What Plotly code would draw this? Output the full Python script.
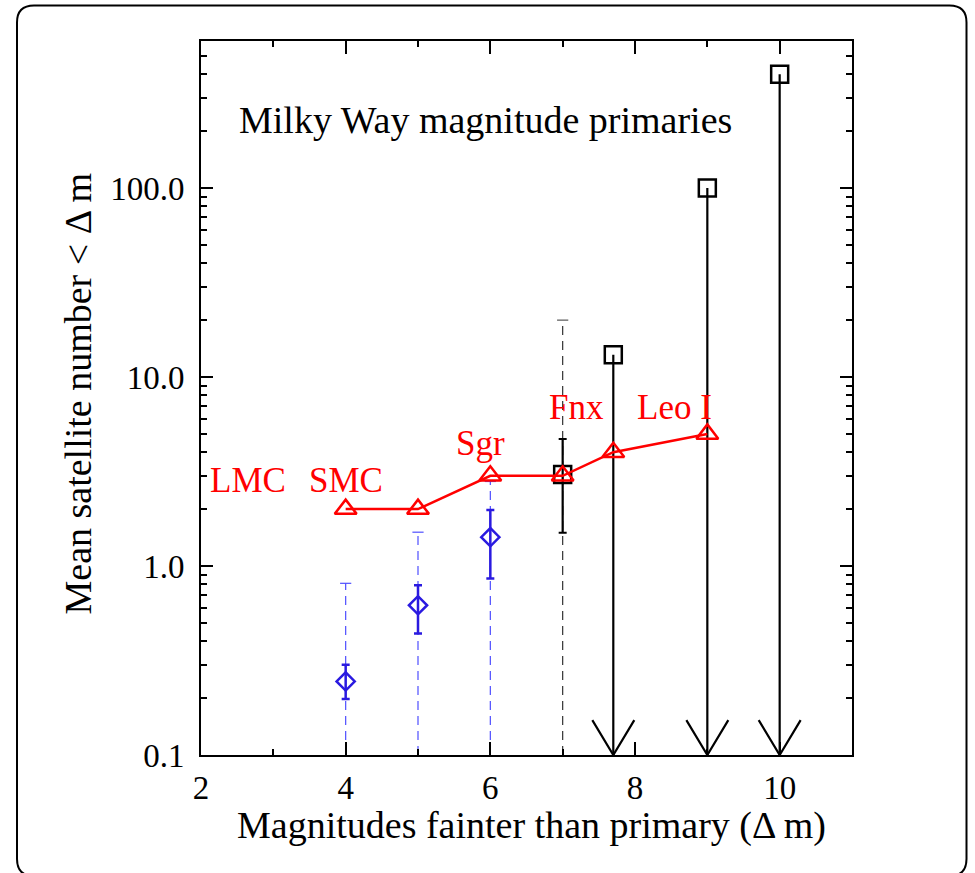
import math
import plotly.graph_objects as go

# ---------------- data ----------------
# red: Milky Way satellites (cumulative counts)
red_x = [4, 5, 6, 7, 7.7, 9]
red_y = [2, 2, 3, 3, 4, 5]
red_labels = ["LMC", "SMC", "Sgr", "Fnx", "Leo I"]
red_label_x = [2.65, 4.01, 5.86, 7.19, 8.55]
red_label_y = [2.85, 2.85, 4.43, 6.9, 6.9]

# blue diamonds with errors
blue_x = [4, 5, 6]
blue_y = [0.245, 0.62, 1.42]
blue_lo = [0.198, 0.44, 0.86]
blue_hi = [0.30, 0.79, 1.98]
blue_dash_hi = [0.81, 1.51, 2.8]

# black square measurement
blk_x = [7]
blk_y = [3.05]
blk_lo = [1.5]
blk_hi = [4.7]
blk_dash_hi = [20]

# black squares: upper limits
lim_x = [7.7, 9, 10]
lim_y = [13.1, 100, 400]

x_ticks = [2, 4, 6, 8, 10]
x_minor = [3, 5, 7, 9]
y_ticks = [0.1, 1, 10, 100]
y_ticktext = ["0.1", "1.0", "10.0", "100.0"]

title_text = "Milky Way magnitude primaries"
x_title = "Magnitudes fainter than primary (Δ m)"
y_title = "Mean satellite number < Δ m"

# ---------------- styling / geometry ----------------
W, H = 975, 873
L, R, T, B = 201, 123, 41, 118
XMIN, XMAX = 2, 11
YLOGMIN, YLOGMAX = -1, 2.778
FLOOR = 10 ** YLOGMIN
ARROW_HALF_W = 0.29
ARROW_TOP = 0.153
FONT = "Liberation Serif"
RED = "#ff0000"
BLUE = "#2a1ae0"
BLUE_LIGHT = "#4f4fff"

pw, ph = W - L - R, H - T - B


def px(xp):
    return (xp - L) / pw


def py(yp):
    return (H - B - yp) / ph


y_minor = [m * 10 ** e for e in range(-1, 3) for m in range(2, 10) if m * 10 ** e < 10 ** YLOGMAX]

fig = go.Figure()


def dashed_segments(xs, highs):
    xx, yy = [], []
    for x, h in zip(xs, highs):
        xx += [x, x, None]
        yy += [FLOOR, h, None]
    return xx, yy


# blue dashed ranges
bx, by = dashed_segments(blue_x, blue_dash_hi)
fig.add_trace(go.Scatter(x=bx, y=by, mode="lines",
                         line=dict(color=BLUE_LIGHT, width=1.2, dash="9px,6px"),
                         hoverinfo="skip", showlegend=False))
fig.add_trace(go.Scatter(x=blue_x, y=blue_dash_hi, mode="markers",
                         marker=dict(symbol="line-ew-open", size=8, color=BLUE_LIGHT,
                                     line=dict(color=BLUE_LIGHT, width=1.2)),
                         hoverinfo="skip", showlegend=False))
# black dashed range
kx, ky = dashed_segments(blk_x, blk_dash_hi)
fig.add_trace(go.Scatter(x=kx, y=ky, mode="lines",
                         line=dict(color="#333333", width=1.2, dash="9px,6px"),
                         hoverinfo="skip", showlegend=False))
fig.add_trace(go.Scatter(x=blk_x, y=blk_dash_hi, mode="markers",
                         marker=dict(symbol="line-ew-open", size=8, color="#555555",
                                     line=dict(color="#555555", width=1.2)),
                         hoverinfo="skip", showlegend=False))

# blue diamonds
fig.add_trace(go.Scatter(
    x=blue_x, y=blue_y, mode="markers",
    marker=dict(symbol="diamond-open", size=14, color=BLUE, line=dict(color=BLUE, width=2.5)),
    error_y=dict(type="data", symmetric=False,
                 array=[h - v for h, v in zip(blue_hi, blue_y)],
                 arrayminus=[v - l for l, v in zip(blue_lo, blue_y)],
                 color=BLUE, thickness=2.5, width=4),
    showlegend=False))

# black square with error
fig.add_trace(go.Scatter(
    x=blk_x, y=blk_y, mode="markers",
    marker=dict(symbol="square-open", size=17, color="black", line=dict(color="black", width=2.5)),
    error_y=dict(type="data", symmetric=False,
                 array=[h - v for h, v in zip(blk_hi, blk_y)],
                 arrayminus=[v - l for l, v in zip(blk_lo, blk_y)],
                 color="black", thickness=2.2, width=4),
    showlegend=False))

# upper limits: shafts + arrowheads
sx, sy, ax, ay = [], [], [], []
for x, y in zip(lim_x, lim_y):
    sx += [x, x, None]
    sy += [y, FLOOR, None]
    ax += [x - ARROW_HALF_W, x, x + ARROW_HALF_W, None]
    ay += [ARROW_TOP, FLOOR, ARROW_TOP, None]
fig.add_trace(go.Scatter(x=sx, y=sy, mode="lines", line=dict(color="black", width=2.2),
                         hoverinfo="skip", showlegend=False))
fig.add_trace(go.Scatter(x=ax, y=ay, mode="lines", line=dict(color="black", width=2.2),
                         hoverinfo="skip", showlegend=False, cliponaxis=False))
fig.add_trace(go.Scatter(
    x=lim_x, y=lim_y, mode="markers",
    marker=dict(symbol="square-open", size=17, color="black", line=dict(color="black", width=2.5)),
    showlegend=False))

# red line with triangles
fig.add_trace(go.Scatter(
    x=red_x, y=red_y, mode="lines+markers",
    line=dict(color=RED, width=2.5),
    marker=dict(symbol="triangle-up-open", size=19, color=RED, line=dict(color=RED, width=2.5)),
    showlegend=False))

annotations = []
for t, x, y in zip(red_labels, red_label_x, red_label_y):
    annotations.append(dict(x=x, y=math.log10(y), xref="x", yref="y", text=t, showarrow=False,
                            xanchor="center", yanchor="middle",
                            font=dict(family=FONT, size=35, color=RED)))
annotations.append(dict(x=px(237), y=py(119.5), xref="paper", yref="paper",
                        text=title_text, showarrow=False, xanchor="left", yanchor="middle",
                        font=dict(family=FONT, size=38, color="black")))
annotations.append(dict(x=px(531.5), y=py(825), xref="paper", yref="paper",
                        text=x_title, showarrow=False, xanchor="center", yanchor="middle",
                        font=dict(family=FONT, size=38, color="black")))
annotations.append(dict(x=px(77), y=py(393.5), xref="paper", yref="paper",
                        text=y_title, showarrow=False, xanchor="center", yanchor="middle",
                        textangle=-90,
                        font=dict(family=FONT, size=38, color="black")))

# rounded outer frame (pixel geometry converted to paper)
fl, ft, fr, fb, rad = 17, 5.5, 966.5, 876, 17
frame_path = (
    f"M {px(fl + rad)},{py(ft)} L {px(fr - rad)},{py(ft)} "
    f"Q {px(fr)},{py(ft)} {px(fr)},{py(ft + rad)} "
    f"L {px(fr)},{py(fb - rad)} Q {px(fr)},{py(fb)} {px(fr - rad)},{py(fb)} "
    f"L {px(fl + rad)},{py(fb)} Q {px(fl)},{py(fb)} {px(fl)},{py(fb - rad)} "
    f"L {px(fl)},{py(ft + rad)} Q {px(fl)},{py(ft)} {px(fl + rad)},{py(ft)} Z"
)

axis_common = dict(showline=True, linecolor="black", linewidth=2, mirror="allticks",
                   ticks="inside", tickcolor="black", tickwidth=2, showgrid=False,
                   zeroline=False, tickfont=dict(family=FONT, size=33, color="black"))

fig.update_layout(
    width=W, height=H,
    margin=dict(l=L, r=R, t=T, b=B, autoexpand=False),
    paper_bgcolor="white", plot_bgcolor="white",
    xaxis=dict(range=[XMIN, XMAX], tickmode="array", tickvals=x_ticks, ticklen=13,
               ticklabelstandoff=2,
               minor=dict(tickmode="array", tickvals=x_minor, ticks="inside", ticklen=6,
                          tickwidth=2, tickcolor="black"),
               **axis_common),
    yaxis=dict(type="log", range=[YLOGMIN, YLOGMAX], tickmode="array", tickvals=y_ticks,
               ticktext=y_ticktext, ticklen=12, ticklabelstandoff=8,
               minor=dict(tickmode="array", tickvals=y_minor, ticks="inside", ticklen=6,
                          tickwidth=2, tickcolor="black"),
               **axis_common),
    annotations=annotations,
    shapes=[dict(type="path", xref="paper", yref="paper", path=frame_path,
                 line=dict(color="black", width=2), layer="above")],
)

fig.write_html("out.html")
